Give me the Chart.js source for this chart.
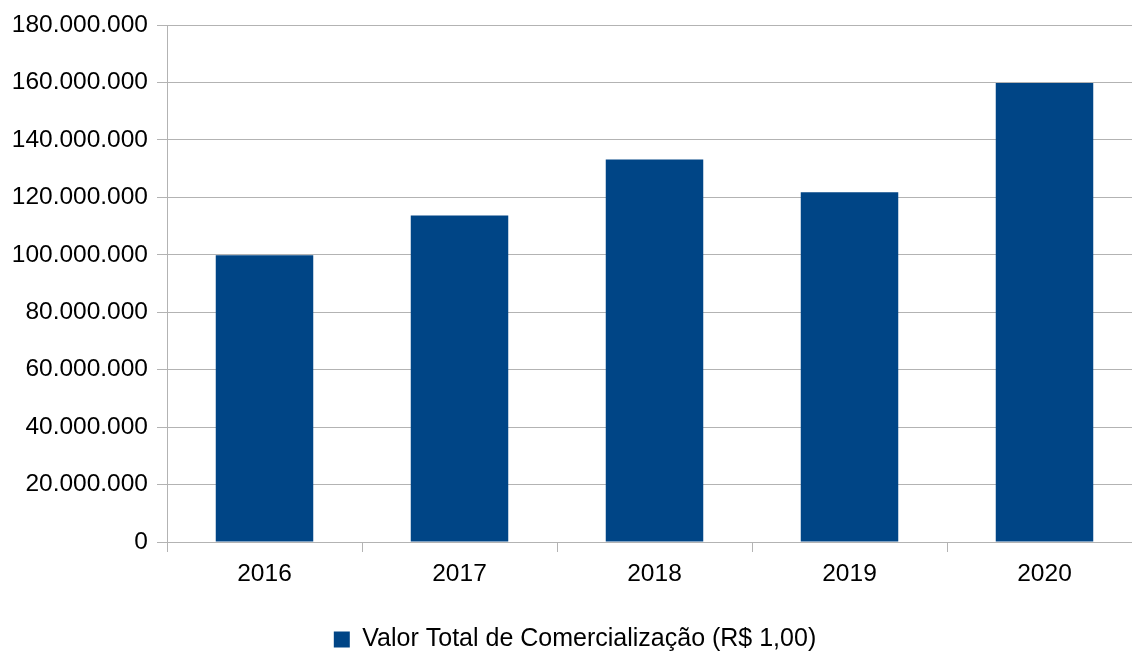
<!DOCTYPE html>
<html>
<head>
<meta charset="utf-8">
<script src="https://cdn.jsdelivr.net/npm/chart.js@4/dist/chart.umd.min.js"></script>
<style>
  html,body{margin:0;padding:0;background:#fff;overflow:hidden;}
  #wrap{width:1152px;height:651px;position:relative;}
</style>
</head>
<body>
<div id="wrap"><canvas id="chart"></canvas></div>
<script>
// data
const years = ['2016','2017','2018','2019','2020'];
const valorTotal = [99800000, 113700000, 133200000, 121800000, 159800000];
const seriesName = 'Valor Total de Comercialização (R$ 1,00)';
const yMax = 180000000, yStep = 20000000;

const fmt = v => String(v).replace(/\B(?=(\d{3})+(?!\d))/g, '.');
const grid = '#b3b3b3';

Chart.defaults.font.family = '"Liberation Sans", Arial, sans-serif';
Chart.defaults.font.size = 24.5;
Chart.defaults.color = '#000';

new Chart(document.getElementById('chart'), {
  type: 'bar',
  data: {
    labels: years,
    datasets: [{
      label: seriesName,
      data: valorTotal,
      backgroundColor: '#004586',
      borderWidth: 0,
      categoryPercentage: 1,
      barPercentage: 0.5
    }]
  },
  options: {
    responsive: true,
    maintainAspectRatio: false,
    animation: false,
    layout: { padding: { top: 25, left: 8, right: 10, bottom: -11 } },
    plugins: {
      tooltip: { enabled: false },
      legend: {
        position: 'bottom',
        labels: { boxWidth: 16, boxHeight: 16, padding: 0, font: { size: 25, lineHeight: 1 } }
      }
    },
    scales: {
      x: {
        afterFit: s => { s.height = 85; },
        grid: { display: true, drawOnChartArea: false, offset: true, color: grid, tickLength: 10 },
        border: { color: grid },
        ticks: { padding: 8 }
      },
      y: {
        min: 0, max: yMax,
        afterFit: s => { s.width = 159; },
        grid: { color: grid, tickLength: 10 },
        border: { color: grid },
        ticks: { stepSize: yStep, padding: 9, callback: v => fmt(v) }
      }
    }
  }
});
</script>
</body>
</html>
